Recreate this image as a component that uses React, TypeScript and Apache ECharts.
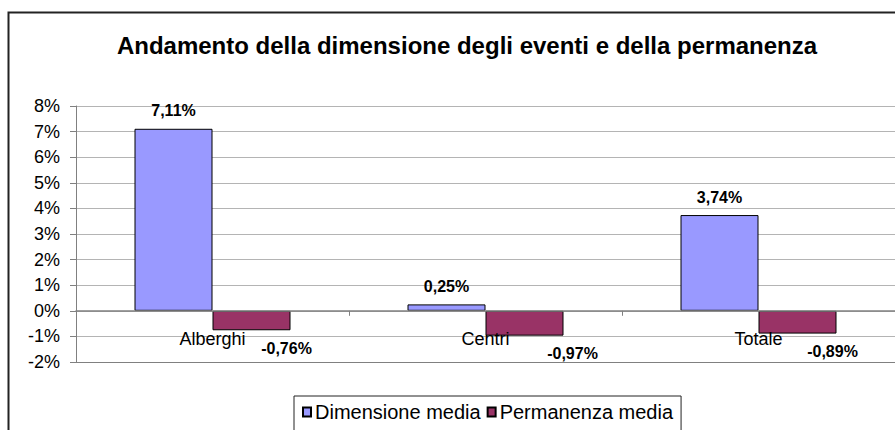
import React, { useEffect, useRef } from "react";
import * as echarts from "echarts";

const titleText = "Andamento della dimensione degli eventi e della permanenza";
const categories = ["Alberghi", "Centri", "Totale"];
const seriesNames = ["Dimensione media", "Permanenza media"];
const dimensioneMedia = [7.11, 0.25, 3.74];
const permanenzaMedia = [-0.76, -0.97, -0.89];
const yMin = -2;
const yMax = 8;
const yInterval = 1;

const FONT = "'Liberation Sans', Arial, sans-serif";
const negLabelShift = [35, 48, 35];
const GRID_TOP = 106;
const GRID_BOTTOM = 68;
const HEIGHT = 430;

const fmt = (v: number) => v.toFixed(2).replace(".", ",") + "%";

function buildData(values: number[]) {
  return values.map((v, i) => ({
    value: v,
    label:
      v >= 0
        ? { position: "top", distance: 10 }
        : { position: "bottom", distance: 10, offset: [negLabelShift[i], 0] },
  }));
}

export default function App() {
  const ref = useRef<HTMLDivElement>(null);
  useEffect(() => {
    if (!ref.current) return;
    const chart = echarts.init(ref.current, undefined, { renderer: "svg" });
    const labelStyle = {
      show: true,
      formatter: (p: any) => fmt(p.value),
      fontFamily: FONT,
      fontSize: 16,
      fontWeight: "bold",
      color: "#000",
    };
    const plotH = HEIGHT - GRID_TOP - GRID_BOTTOM;
    const zeroOffset = -((0 - yMin) / (yMax - yMin)) * plotH;
    const splitColors = Array.from({ length: 11 }, (_, i) => (i === 0 ? "#808080" : "#b4b4b4"));
    chart.setOption({
      animation: false,
      backgroundColor: "#fff",
      textStyle: { fontFamily: FONT },
      graphic: [
        {
          type: "rect",
          shape: { x: 8.5, y: 12.5, width: 1000, height: 1000 },
          style: { fill: "none", stroke: "#222", lineWidth: 2 },
          z: 0,
        },
        {
          type: "text",
          x: 467,
          y: 45,
          style: {
            text: titleText,
            fontFamily: FONT,
            fontSize: 24,
            fontWeight: "bold",
            fill: "#000",
            textAlign: "center",
            textVerticalAlign: "middle",
          },
        },
      ],
      legend: {
        data: seriesNames,
        left: 294,
        top: 396,
        padding: [6, 8, 20, 8],
        borderColor: "#222",
        borderWidth: 1,
        icon: "rect",
        itemWidth: 8,
        itemHeight: 9,
        itemGap: 6,
        textStyle: { fontFamily: FONT, fontSize: 20, color: "#000", padding: [0, 0, 0, -1] },
      },
      grid: { left: 76, right: 0, top: GRID_TOP, bottom: GRID_BOTTOM, containLabel: false },
      xAxis: {
        type: "category",
        data: categories,
        z: 10,
        position: "bottom",
        offset: zeroOffset,
        axisLine: { onZero: false, lineStyle: { color: "#808080", width: 1.5 } },
        axisTick: { show: true, length: 5, lineStyle: { color: "#808080" } },
        axisLabel: {
          fontFamily: FONT,
          fontSize: 18,
          lineHeight: 18,
          color: "#000",
          margin: 19,
        },
      },
      yAxis: {
        type: "value",
        min: yMin,
        max: yMax,
        interval: yInterval,
        axisLine: { show: true, lineStyle: { color: "#808080" } },
        axisTick: { show: true, length: 6, lineStyle: { color: "#808080" } },
        axisLabel: {
          formatter: "{value}%",
          fontFamily: FONT,
          fontSize: 18,
          color: "#000",
          margin: 16,
        },
        splitLine: { show: true, lineStyle: { color: splitColors, width: 1 } },
      },
      series: [
        {
          name: seriesNames[0],
          type: "bar",
          data: buildData(dimensioneMedia),
          barWidth: 78,
          barGap: "0%",
          itemStyle: { color: "#9999FF", borderColor: "#000", borderWidth: 1 },
          label: labelStyle,
        },
        {
          name: seriesNames[1],
          type: "bar",
          data: buildData(permanenzaMedia),
          barWidth: 78,
          barGap: "0%",
          itemStyle: { color: "#993366", borderColor: "#000", borderWidth: 1 },
          label: labelStyle,
        },
      ],
    });
    return () => chart.dispose();
  }, []);
  return (
    <div
      ref={ref}
      style={{ position: "absolute", left: 0, top: 0, width: 895, height: 430 }}
    />
  );
}
